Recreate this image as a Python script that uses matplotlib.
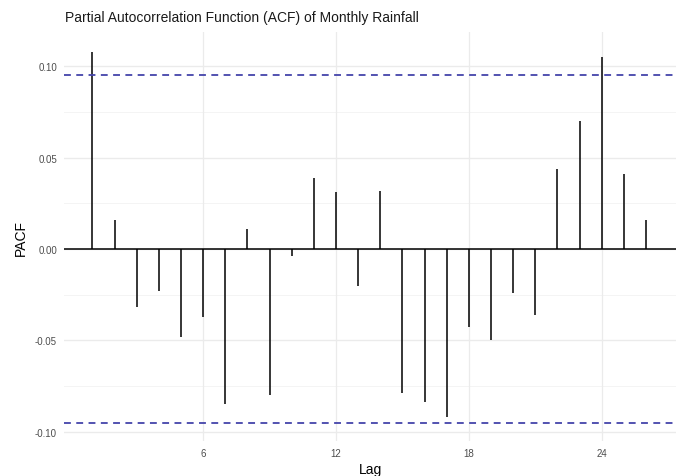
import numpy as np
from matplotlib import pyplot as plt

# PACF values, lags 1..26
lags = list(range(1, 27))
pacf = [0.108, 0.016, -0.032, -0.023, -0.048, -0.037, -0.085, 0.011, -0.080, -0.004,
        0.039, 0.031, -0.020, 0.032, -0.079, -0.084, -0.092, -0.043, -0.050, -0.024,
        -0.036, 0.044, 0.070, 0.105, 0.041, 0.016]
conf_limit = 0.0956
x_ticks = [6, 12, 18, 24]
y_ticks = [-0.10, -0.05, 0.00, 0.05, 0.10]
y_tick_labels = ["-0.10", "-0.05", "0.00", "0.05", "0.10"]

plt.rcParams['font.family'] = ['Liberation Sans', 'DejaVu Sans']

fig = plt.figure(figsize=(6.83, 4.77), dpi=100)
ax = fig.add_axes([64 / 683, 1 - 442 / 477, (676 - 64) / 683, (442 - 33) / 477])

# grid like theme_minimal
for y in [-0.075, -0.025, 0.025, 0.075]:
    ax.axhline(y, color='#F2F2F2', lw=0.6, zorder=0)
for y in y_ticks:
    ax.axhline(y, color='#EBEBEB', lw=1.0, zorder=0)
for x in x_ticks:
    ax.axvline(x, color='#EBEBEB', lw=0.9, zorder=0)

ax.vlines(lags, 0, pacf, color='black', lw=1.1, zorder=2)
ax.axhline(0, color='black', lw=1.1, zorder=2)
for c in [conf_limit, -conf_limit]:
    ax.axhline(c, color='#4444AA', lw=1.3, ls=(0, (3.8, 3.0)), zorder=3)

ax.set_xlim(-0.28, 27.35)
ax.set_ylim(-0.1052, 0.1189)
ax.set_xticks(x_ticks)
ax.set_yticks(y_ticks)
ax.set_yticklabels(y_tick_labels)
ax.tick_params(length=0, labelsize=7, colors='#4D4D4D', pad=5)
for s in ax.spines.values():
    s.set_visible(False)

ax.set_xlabel("Lag", fontsize=10, labelpad=3)
ax.set_ylabel("PACF", fontsize=10, labelpad=5)
fig.text(65 / 683, 1 - 18 / 477, "Partial Autocorrelation Function (ACF) of Monthly Rainfall",
         fontsize=10, ha='left', va='center', color='#1A1A1A')

fig.savefig("out.png", dpi=100)
